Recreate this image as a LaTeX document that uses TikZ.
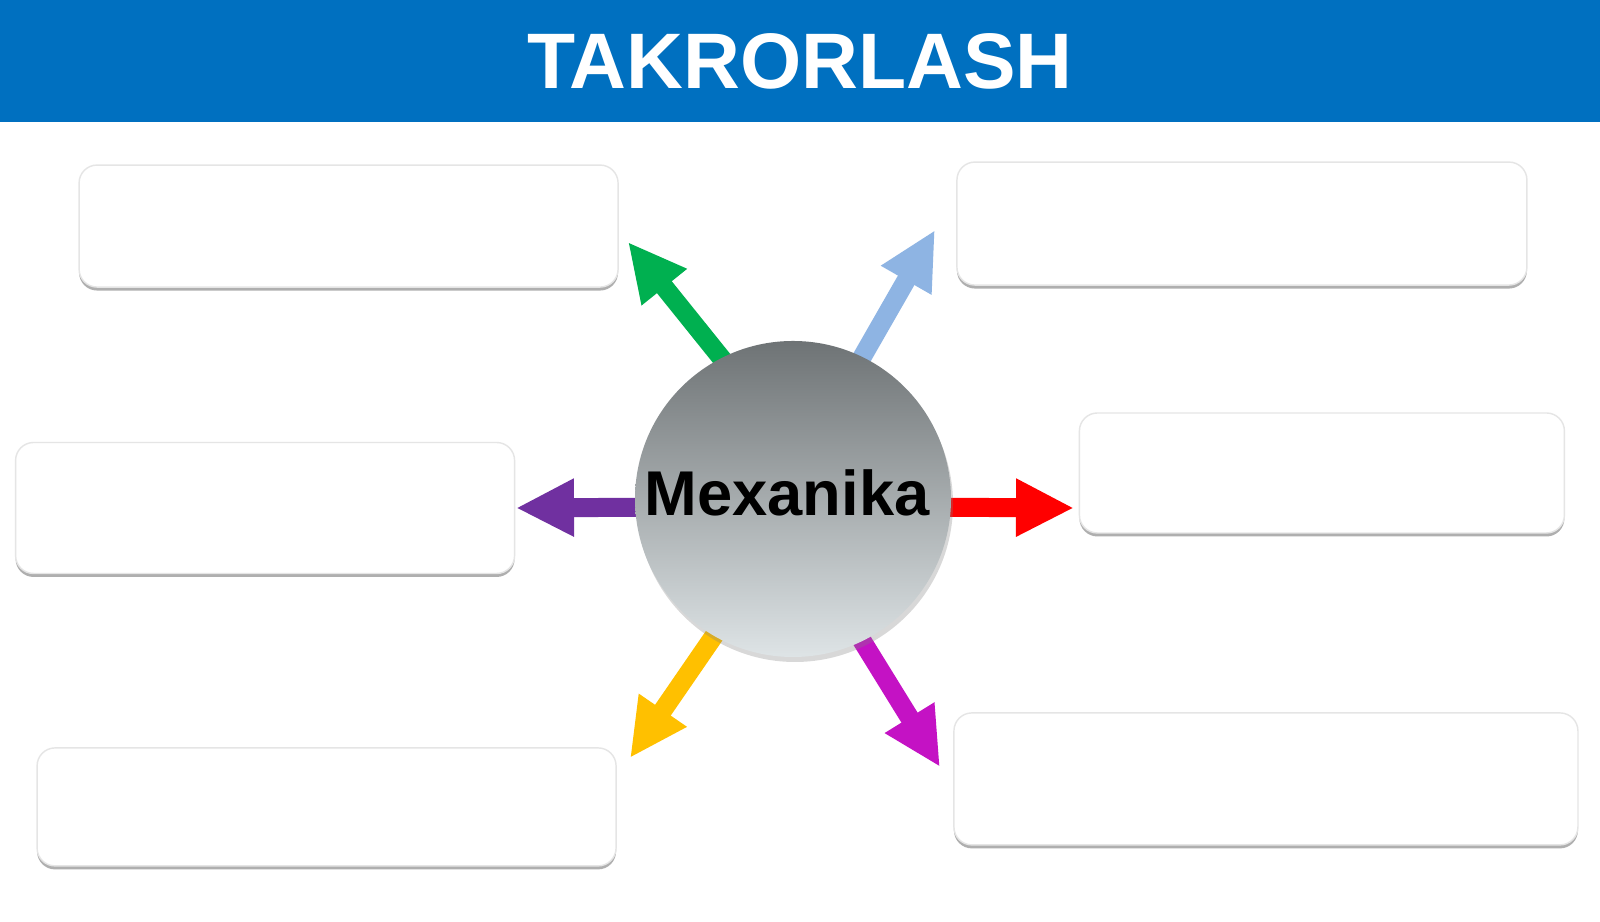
\documentclass[tikz,border=0pt]{standalone}
\usepackage{fontspec}
\setmainfont{Liberation Sans}
\usetikzlibrary{positioning, arrows.meta, shadows, backgrounds}
\definecolor{bannerblue}{HTML}{0070C0}
\definecolor{hubdark}{HTML}{6E7375}
\definecolor{hublight}{HTML}{DEE4E6}
\definecolor{spokegreen}{HTML}{00B050}
\definecolor{spokeblue}{HTML}{8EB4E3}
\definecolor{spokepurple}{HTML}{7030A0}
\definecolor{spokered}{HTML}{FF0000}
\definecolor{spokeyellow}{HTML}{FFC000}
\definecolor{spokemagenta}{HTML}{C412C4}
\tikzset{
banner/.style={
  rectangle,
  fill=bannerblue,
  minimum width=16cm,
  minimum height=1.22cm,
  inner sep=0pt, outer sep=0pt,
  text=white, font=\fontsize{22.4}{26}\selectfont\bfseries
  },
hub/.style={
  circle,
  minimum size=3.16cm, inner sep=0pt,
  top color=hubdark, bottom color=hublight,
  drop shadow={shadow xshift=0.2mm, shadow yshift=-0.5mm, opacity=0.3},
  text depth=1.2mm,
  font=\fontsize{18}{21}\selectfont\bfseries
  },
block/.style={
  rectangle,
  draw=gray!20, fill=white,
  rounded corners=1.8mm,
  drop shadow={shadow xshift=0mm, shadow yshift=-0.35mm, opacity=0.5, fill=gray!75!black}
  },
spoke/.style={line width=1.9mm, -{Triangle[length=5.8mm, width=5.4mm]}, shorten <=-3mm}
}
\begin{document}
\begin{tikzpicture}
\useasboundingbox (0,0) rectangle (16,9.22);

\node[banner]	(header)	at (8,8.61)	{TAKRORLASH};
\node[hub]	(mechanics)	at (7.93,4.23)	{Mexanika\hspace*{1.2mm}};

\node[block, minimum width=5.39cm, minimum height=1.22cm]	(boxnw)	[above left=0.99cm and 0.62cm of mechanics]	{};
\node[block, minimum width=5.70cm, minimum height=1.23cm]	(boxne)	[above right=1.01cm and 0.51cm of mechanics]	{};
\node[block, minimum width=4.99cm, minimum height=1.31cm]	(boxw)	[left=1.19cm of mechanics, yshift=-0.9mm]	{};
\node[block, minimum width=4.85cm, minimum height=1.20cm]	(boxe)	[right=1.27cm of mechanics, yshift=2.6mm]	{};
\node[block, minimum width=5.79cm, minimum height=1.18cm]	(boxsw)	[below left=1.36cm and 0.64cm of mechanics]	{};
\node[block, minimum width=6.24cm, minimum height=1.32cm]	(boxse)	[below right=1.01cm and 0.48cm of mechanics]	{};

\coordinate (tipNW) at (6.28,6.80);
\coordinate (tipNE) at (9.35,6.92);
\coordinate (tipW) at (5.16,4.14);
\coordinate (tipE) at (10.74,4.14);
\coordinate (tipSW) at (6.30,1.64);
\coordinate (tipSE) at (9.40,1.55);

\begin{scope}[on background layer]
\fill[white] (0,0) rectangle (16,9.22);
\draw[spoke, spokegreen] (mechanics.117) -- (tipNW);
\draw[spoke, spokeblue] (mechanics.64) -- (tipNE);
\draw[spoke, spokepurple] (mechanics.183) -- (tipW);
\draw[spoke, spokered] (mechanics.357) -- (tipE);
\draw[spoke, spokeyellow] (mechanics.240) -- (tipSW);
\draw[spoke, spokemagenta] (mechanics.296) -- (tipSE);
\end{scope}
\end{tikzpicture}
\end{document}
